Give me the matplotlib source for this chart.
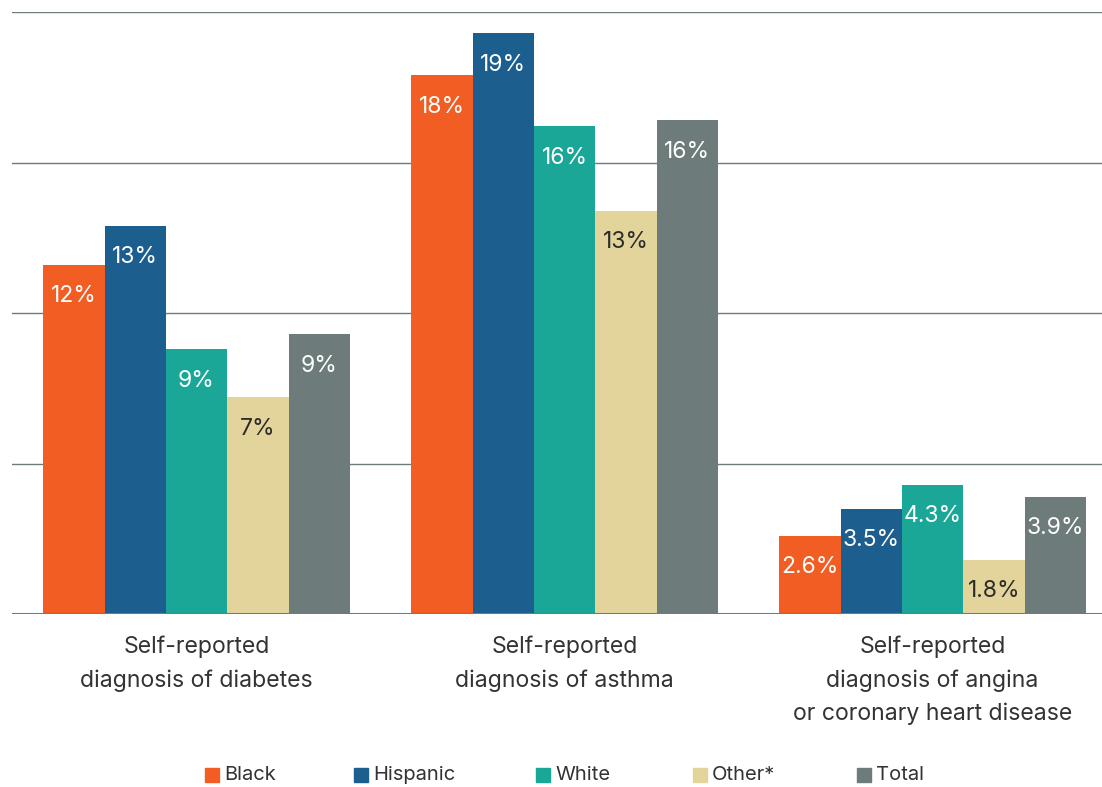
import matplotlib
matplotlib.use("Agg")
import matplotlib.pyplot as plt
import numpy as np

categories = ["Self-reported\ndiagnosis of diabetes",
              "Self-reported\ndiagnosis of asthma",
              "Self-reported\ndiagnosis of angina\nor coronary heart disease"]
series = ["Black", "Hispanic", "White", "Other*", "Total"]
black = [11.6, 17.9, 2.6]
hispanic = [12.9, 19.3, 3.5]
white = [8.8, 16.2, 4.3]
other = [7.2, 13.4, 1.8]
total = [9.3, 16.4, 3.9]
labels_black = ["12%", "18%", "2.6%"]
labels_hispanic = ["13%", "19%", "3.5%"]
labels_white = ["9%", "16%", "4.3%"]
labels_other = ["7%", "13%", "1.8%"]
labels_total = ["9%", "16%", "3.9%"]

values = [black, hispanic, white, other, total]
labels = [labels_black, labels_hispanic, labels_white, labels_other, labels_total]
colors = ["#F15D22", "#1C5F8F", "#1AA797", "#E2D49B", "#6D7B7B"]
text_colors = ["white", "white", "white", "#2b2b2b", "white"]

plt.rcParams['font.family'] = ['Inter', 'DejaVu Sans']

fig = plt.figure(figsize=(11.02, 7.87), dpi=100)
ax = fig.add_axes([12/1102, 1-614/787, 1-12/1102, (614-12)/787])

x = np.arange(len(categories))
w = 1/6
for i, (vals, lab) in enumerate(zip(values, labels)):
    xs = x + (i - 2) * w
    ax.bar(xs, vals, width=w, color=colors[i], zorder=2, label=series[i])
    for xi, v, t in zip(xs, vals, lab):
        ax.text(xi, v - 1.05, t, ha="center", va="center", fontsize=16.5,
                color=text_colors[i], zorder=3)

ax.set_xlim(-0.5014, 2.4606)
ax.set_ylim(0, 20)
for y in [5, 10, 15, 20]:
    ax.axhline(y, color="#6D7B7B", lw=1.0, zorder=1)
ax.axhline(0, color="#6D7B7B", lw=2.2, zorder=4)
for s in ax.spines.values():
    s.set_visible(False)
ax.tick_params(left=False, bottom=False, labelleft=False, labelbottom=False)

for xi, c in zip(x, categories):
    ax.text(xi, -0.72, c, ha="center", va="top", fontsize=16.6, color="#333333",
            linespacing=1.62, transform=ax.transData, clip_on=False)

# legend
leg_x = [205, 354, 536, 693, 857]
for px, name, col in zip(leg_x, series, colors):
    fig.patches.append(plt.Rectangle((px/1102, 1-782/787), 14/1102, 14/787,
                                     transform=fig.transFigure, color=col, figure=fig))
    fig.text((px+19)/1102, 1-775/787, name, ha="left", va="center",
             fontsize=14.5, color="#333333")

fig.savefig("out.png", dpi=100)
